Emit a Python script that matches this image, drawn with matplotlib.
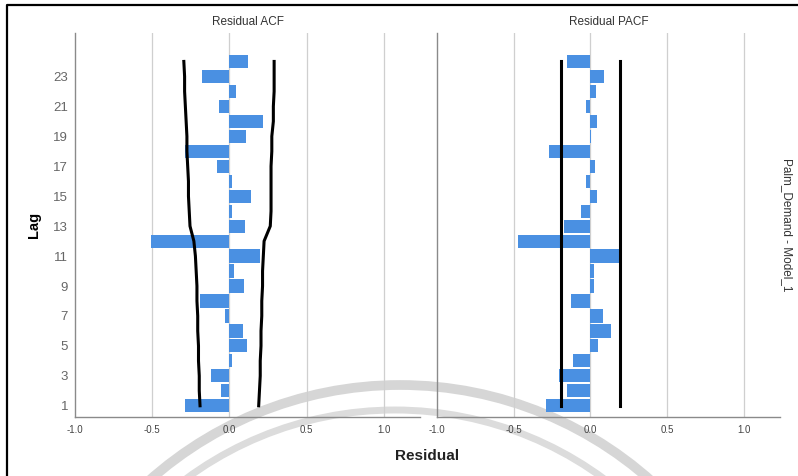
import matplotlib
matplotlib.use("Agg")
import matplotlib.pyplot as plt
import numpy as np
from matplotlib.patches import Arc

plt.rcParams["font.family"] = ["Liberation Sans", "DejaVu Sans"]

lags = list(range(1, 25))

acf = [-0.29, -0.056, -0.12, 0.017, 0.115, 0.087, -0.03, -0.19, 0.095, 0.03,
       0.20, -0.51, 0.10, 0.015, 0.14, 0.02, -0.08, -0.29, 0.106, 0.22,
       -0.07, 0.04, -0.18, 0.12]
pacf = [-0.29, -0.15, -0.205, -0.115, 0.05, 0.134, 0.08, -0.13, 0.02, 0.024,
        0.203, -0.47, -0.173, -0.063, 0.045, -0.026, 0.028, -0.27, 0.006, 0.04,
        -0.026, 0.035, 0.087, -0.15]

acf_upper = [0.19, 0.195, 0.20, 0.20, 0.205, 0.205, 0.21, 0.21, 0.215, 0.215,
             0.22, 0.225, 0.265, 0.27, 0.27, 0.27, 0.27, 0.275, 0.275, 0.285,
             0.285, 0.29, 0.29, 0.29]
acf_lower = [-0.19, -0.195, -0.195, -0.20, -0.20, -0.205, -0.205, -0.21, -0.21, -0.215,
             -0.22, -0.23, -0.255, -0.26, -0.265, -0.265, -0.27, -0.275, -0.275, -0.28,
             -0.285, -0.29, -0.29, -0.295]
pacf_upper = [0.19] * 24
pacf_lower = [-0.19] * 24

x_ticks = [-1.0, -0.5, 0.0, 0.5, 1.0]
y_ticks = list(range(1, 24, 2))

W, H = 798, 476
fig = plt.figure(figsize=(W / 100, H / 100), dpi=100)

# background layer in pixel coords: frame + watermark arcs
bg = fig.add_axes([0, 0, 1, 1], zorder=-1)
bg.set_xlim(0, W)
bg.set_ylim(H, 0)
bg.axis("off")
bg.plot([7, 7, 798], [480, 5, 5], color="black", lw=1.6, solid_capstyle="butt")
bg.add_patch(Arc((400, 762), 2 * 377, 2 * 377, theta1=180, theta2=360,
                 color="#d6d6d6", lw=7))
bg.add_patch(Arc((395, 762), 2 * 352, 2 * 352, theta1=180, theta2=360,
                 color="#dcdcdc", lw=5))

bar_color = "#4a90e2"
grid_color = "#cfcfcf"
spine_color = "#8a8a8a"

panels = [
    ("Residual ACF", acf, acf_upper, acf_lower, [75 / W, 59 / H, 345 / W, 384 / H]),
    ("Residual PACF", pacf, pacf_upper, pacf_lower, [437 / W, 59 / H, 343 / W, 384 / H]),
]

axes = []
for i, (title, vals, upper, lower, rect) in enumerate(panels):
    ax = fig.add_axes(rect)
    ax.set_facecolor("none")
    ax.barh(lags, vals, height=0.88, color=bar_color, zorder=2)
    ax.plot(upper, lags, color="black", lw=2.2, zorder=3)
    ax.plot(lower, lags, color="black", lw=2.2, zorder=3)

    ax.set_xlim(-1.0, 1.235)
    ax.set_ylim(0.25, 25.9)
    ax.set_xticks(x_ticks)
    ax.set_xticklabels([f"{t:.1f}" for t in x_ticks], fontsize=7, color="#444444")
    ax.set_yticks(y_ticks)
    if i == 0:
        ax.set_yticklabels([str(t) for t in y_ticks], fontsize=9.5, color="#666666")
        ax.set_ylabel("Lag", fontsize=10.5, fontweight="bold", labelpad=9)
    else:
        ax.set_yticklabels([])
    ax.tick_params(axis="both", length=0)
    ax.tick_params(axis="x", pad=6)
    ax.tick_params(axis="y", pad=5)

    for t in x_ticks[1:]:
        ax.axvline(t, color=grid_color, lw=0.9, zorder=1)
    for side in ["top", "right"]:
        ax.spines[side].set_visible(False)
    for side in ["left", "bottom"]:
        ax.spines[side].set_color(spine_color)
        ax.spines[side].set_linewidth(1.0)

    ax.set_title(title, fontsize=8.5, color="#333333", pad=6)
    axes.append(ax)

fig.text(427 / W, 1 - 456 / H, "Residual", ha="center", va="center",
         fontsize=11, fontweight="bold", color="#222222")
fig.text(787 / W, 1 - 225 / H, "Palm_Demand - Model_1", ha="center", va="center",
         rotation=270, fontsize=8.5, color="#333333")

fig.savefig("out.png", dpi=100)
